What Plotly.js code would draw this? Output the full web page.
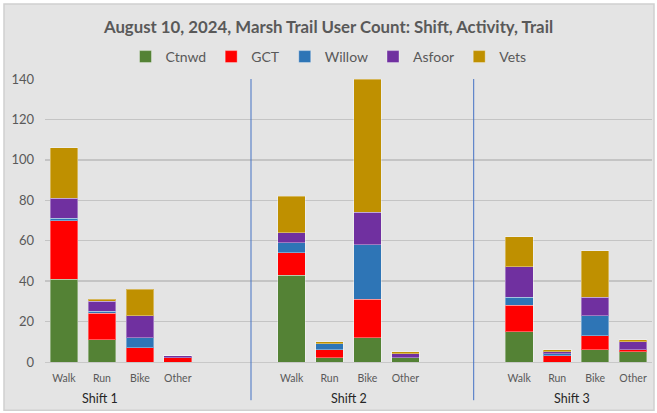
<!DOCTYPE html>
<html>
<head>
<meta charset="utf-8">
<script src="https://cdn.plot.ly/plotly-3.0.1.min.js"></script>
<style>html,body{margin:0;padding:0;background:#fff;}#chart{width:657px;height:413px;}</style>
</head>
<body>
<div id="chart"></div>
<script>
// ---- data ----
const shifts = ["Shift 1", "Shift 2", "Shift 3"];
const activities = ["Walk", "Run", "Bike", "Other"];
const trails = ["Ctnwd", "GCT", "Willow", "Asfoor", "Vets"];
const trailColors = ["#548235", "#ff0000", "#2e75b6", "#7030a0", "#bf9000"];
// values per trail, ordered Shift1(Walk,Run,Bike,Other), Shift2(...), Shift3(...)
const ctnwd  = [41, 11, 0, 0,   43, 2, 12, 2,   15, 0, 6, 5];
const gct    = [29, 13, 7, 2,   11, 4, 19, 0,   13, 3, 7, 1];
const willow = [1, 1, 5, 0,     5, 3, 27, 0,    4, 1, 10, 0];
const asfoor = [10, 5, 11, 1,   5, 0, 16, 2,    15, 1, 9, 4];
const vets   = [25, 1, 13, 0,   18, 1, 66, 1,   15, 1, 23, 1];
const series = [ctnwd, gct, willow, asfoor, vets];

// ---- layout helpers ----
const slotsPerShift = 6; // 4 activities + 2 blank slots between shifts
const xPos = [];
const tickText = [];
shifts.forEach((s, si) => activities.forEach((a, ai) => {
  xPos.push(si * slotsPerShift + ai);
  tickText.push(a);
}));

const traces = trails.map((t, i) => ({
  type: "bar",
  name: t,
  x: xPos,
  y: series[i],
  marker: {color: trailColors[i], line: {color: "rgba(255,255,255,0.35)", width: 1}},
  hoverinfo: "x+y+name"
}));

const shiftLabelX = [0.95, 7.5, 13.4];
const separatorX = [4.93, 10.8];

const gray = "#595959";
const layout = {
  width: 657, height: 413,
  margin: {l: 45, r: 5, t: 79, b: 51, pad: 0},
  paper_bgcolor: "#ffffff",
  plot_bgcolor: "rgba(0,0,0,0)",
  barmode: "stack",
  bargap: 0.27,
  font: {family: "Lato, 'Liberation Sans', sans-serif", color: gray},
  title: {
    text: "<b>August 10, 2024, Marsh Trail User Count: Shift, Activity, Trail</b>",
    font: {size: 16.8, color: gray, family: "Lato, sans-serif"},
    x: 0.5, xref: "container", xanchor: "center",
    y: 1 - 27 / 413, yref: "container", yanchor: "middle"
  },
  showlegend: true,
  legend: {
    orientation: "h", x: 0.5, xref: "container", xanchor: "center",
    y: 1 - 57 / 413, yref: "container", yanchor: "middle",
    font: {size: 14, color: gray}, traceorder: "normal",
    bgcolor: "rgba(0,0,0,0)", itemwidth: 30
  },
  xaxis: {
    type: "linear", range: [-0.5, 15.5],
    tickmode: "array", tickvals: xPos, ticktext: tickText,
    tickfont: {size: 10.5, color: gray}, ticks: "", showgrid: false,
    zeroline: false, showline: true, linecolor: "#c8c8c8", linewidth: 1,
    ticklabelstandoff: 6,
    fixedrange: true
  },
  yaxis: {
    range: [0, 140], dtick: 20, tick0: 0,
    tickfont: {size: 13, color: gray},
    gridcolor: "#c4c4c4", gridwidth: 1.5,
    zeroline: false, showline: false, ticks: "", ticklabelstandoff: 10,
    fixedrange: true
  },
  shapes: [
    {type: "rect", xref: "paper", yref: "paper", layer: "below",
     x0: -41 / 607, x1: 609 / 607, y0: -48.3 / 282.7, y1: 357.7 / 282.7,
     fillcolor: "#e4e4e4", line: {color: "#d0d0d0", width: 1.5}}
  ].concat(separatorX.map(x => ({
    type: "line", xref: "x", yref: "paper", x0: x, x1: x, y0: -0.135, y1: 1,
    line: {color: "#4472c4", width: 1}
  }))),
  annotations: shifts.map((s, i) => ({
    text: s, x: shiftLabelX[i], xref: "x", y: -0.13, yref: "paper",
    showarrow: false, xanchor: "center", yanchor: "middle",
    font: {size: 12.5, color: "#262626"}
  }))
};

Plotly.newPlot("chart", traces, layout, {displayModeBar: false, staticPlot: true});
</script>
</body>
</html>
